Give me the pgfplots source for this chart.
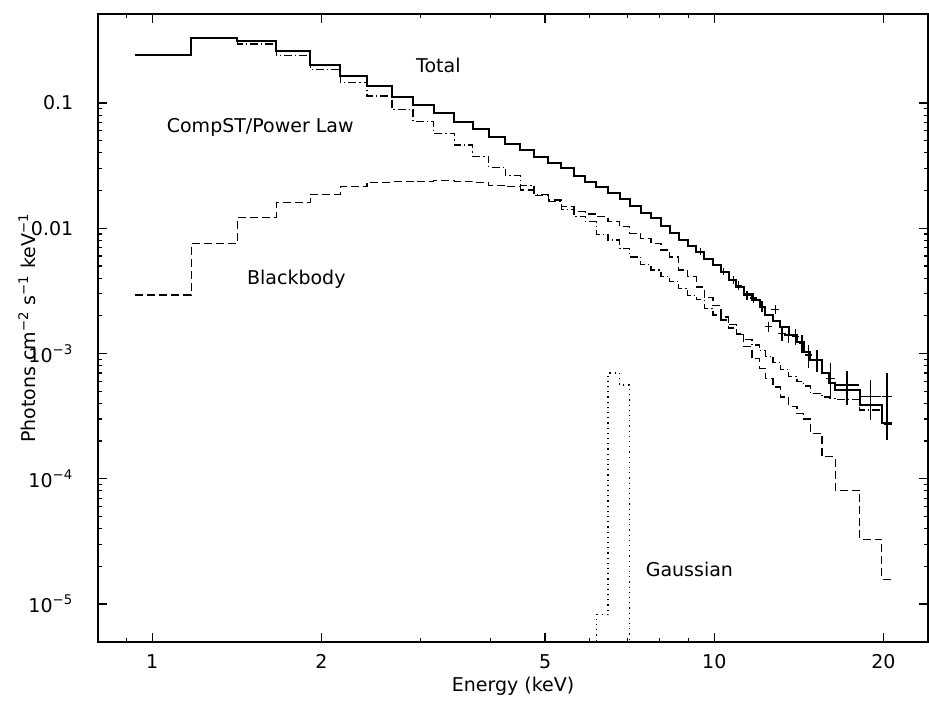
\documentclass[border=0pt]{standalone}
\usepackage{pgfplots}
\pgfplotsset{compat=1.18}
\usepackage{fontspec}
\setmainfont{DejaVu Sans}
\begin{document}
\fontsize{9.5}{11}\selectfont
\begin{tikzpicture}
\begin{axis}[
  at={(0,0)}, anchor=south west,
  scale only axis, width=415pt, height=314pt,
  xmode=log, ymode=log,
  xmin=0.801, xmax=24.0, ymin=4.97e-6, ymax=0.514,
  xtick={1,2,5,10,20}, xticklabels={1,2,5,10,20},
  minor xtick={0.9,3,4,6,7,8,9},
  ytick={1e-5,1e-4,1e-3,0.01,0.1},
  yticklabels={10\textsuperscript{−5},10\textsuperscript{−4},10\textsuperscript{−3},0.01,0.1},
  tick align=inside, major tick length=4.5pt, minor tick length=2pt,
  tick style={line width=0.6pt,black},
  axis line style={line width=0.8pt},
  xticklabel style={yshift=-3pt},
  yticklabel style={xshift=-9pt},
  xlabel={Energy (keV)},
  ylabel={Photons cm\textsuperscript{−2} s\textsuperscript{−1} keV\textsuperscript{−1}},
  xlabel style={at={(axis description cs:0.5,0)}, anchor=base, yshift=-24.5pt},
  ylabel style={at={(axis description cs:-0.0855,0.5)}, anchor=center},
  clip=true,
]
% Total model
\addplot[const plot, black, line width=1pt] coordinates {
(0.933,0.2415)(1.173,0.330)(1.417,0.314)(1.662,0.262)(1.91,0.202)(2.16,0.165)(2.41,0.137)(2.67,0.111)(2.91,0.0964)(3.17,0.0837)(3.45,0.0710)(3.72,0.0617)(3.97,0.0532)(4.25,0.0471)(4.52,0.0421)(4.78,0.0373)(5.07,0.0334)(5.34,0.0301)(5.63,0.0261)(5.90,0.0235)(6.17,0.0215)(6.47,0.0192)(6.79,0.0170)(7.07,0.0151)(7.40,0.0133)(7.72,0.0120)(8.04,0.0104)(8.33,0.00912)(8.65,0.00806)(8.97,0.00722)(9.29,0.00643)(9.60,0.00565)(9.95,0.00509)(10.28,0.00450)(10.60,0.00386)(10.94,0.00341)(11.28,0.00298)(11.67,0.00267)(12.04,0.00234)(12.32,0.00203)(12.72,0.00183)(13.10,0.00162)(13.56,0.00141)(14.03,0.00124)(14.42,0.00103)(14.82,0.000887)(15.55,0.000695)(16.03,0.000585)(16.42,0.000511)(18.14,0.000390)(19.87,0.000280)(20.70,0.000280)
};
% CompST / power law
\addplot[const plot, black, line width=0.6pt, dash pattern=on 4pt off 1.5pt on 0.6pt off 1.5pt] coordinates {
(0.933,0.240)(1.173,0.326)(1.417,0.296)(1.662,0.239)(1.91,0.185)(2.16,0.146)(2.41,0.1137)(2.67,0.0891)(2.91,0.0710)(3.17,0.0573)(3.45,0.0462)(3.72,0.0377)(3.97,0.0306)(4.25,0.0263)(4.52,0.0221)(4.78,0.0187)(5.07,0.0163)(5.34,0.0142)(5.63,0.0125)(5.90,0.0113)(6.17,0.00895)(6.47,0.00805)(6.79,0.0069)(7.07,0.0059)(7.40,0.0051)(7.72,0.00465)(8.04,0.0041)(8.33,0.00375)(8.65,0.0033)(8.97,0.0029)(9.29,0.00268)(9.60,0.0023)(9.95,0.00203)(10.28,0.00185)(10.60,0.0016)(10.94,0.00141)(11.28,0.00129)(11.67,0.00117)(12.04,0.00105)(12.32,0.00095)(12.72,0.00085)(13.10,0.00075)(13.56,0.00066)(14.03,0.0006)(14.42,0.00055)(14.82,0.00048)(15.55,0.00045)(16.03,0.00044)(16.42,0.00043)(18.14,0.000354)(19.87,0.00027)(20.70,0.00027)
};
% Blackbody
\addplot[const plot, black, line width=0.6pt, dash pattern=on 4pt off 2pt] coordinates {
(0.933,0.00293)(1.173,0.00758)(1.417,0.01214)(1.662,0.0161)(1.91,0.01874)(2.16,0.0215)(2.41,0.0233)(2.67,0.0236)(2.91,0.0238)(3.17,0.0239)(3.45,0.0238)(3.72,0.0233)(3.97,0.0221)(4.25,0.0215)(4.52,0.0202)(4.78,0.0184)(5.07,0.0168)(5.34,0.0149)(5.63,0.0136)(5.90,0.0130)(6.17,0.0124)(6.47,0.0113)(6.79,0.0103)(7.07,0.0091)(7.40,0.0083)(7.72,0.0076)(8.04,0.0067)(8.33,0.0059)(8.65,0.00465)(8.97,0.0041)(9.29,0.0034)(9.60,0.0028)(9.95,0.0024)(10.28,0.00196)(10.60,0.0017)(10.94,0.00145)(11.28,0.00113)(11.67,0.00091)(12.04,0.00076)(12.32,0.00063)(12.72,0.00054)(13.10,0.00045)(13.56,0.00038)(14.03,0.00033)(14.42,0.00030)(14.82,0.00023)(15.55,0.00015)(16.42,0.000081)(18.14,0.0000329)(19.87,0.0000158)(20.70,0.0000158)
};
% Gaussian
\addplot[const plot, black, line width=0.6pt, dotted] coordinates {
(5.8,1e-7)(6.17,8.2e-6)(6.47,7.0e-4)(6.79,5.6e-4)(7.07,1e-7)(7.3,1e-7)
};
% Data
\addplot[black, line width=0.6pt, only marks, mark=*, mark size=0pt,
  mark options={draw opacity=0, fill opacity=0},
  error bars/.cd, x dir=both, x explicit, y dir=both, y explicit, error mark=none,
  error bar style={line width=0.7pt, black}] coordinates {
(9.44,0.0065) +- (0.16,0.0004)
(10.39,0.0045) +- (0.16,0.0003)
(10.82,0.00386) +- (0.17,0.0003)
(11.05,0.0035) +- (0.17,0.0003)
(11.43,0.00293) +- (0.19,0.00025)
(11.74,0.00277) +- (0.18,0.00025)
(12.16,0.00238) +- (0.14,0.00025)
(12.49,0.00164) +- (0.2,0.00016)
(12.84,0.00225) +- (0.2,0.0002)
(13.19,0.00145) +- (0.2,0.0002)
(13.56,0.00141) +- (0.23,0.0002)
(13.93,0.00137) +- (0.2,0.0002)
(14.32,0.00121) +- (0.2,0.0002)
(14.72,0.000973) +- (0.2,0.0002)
(15.22,0.000887) +- (0.36,0.00018)
(16.08,0.000634) +- (0.3,0.0002)
(17.22,0.000561) +- (0.86,0.00017)
(18.95,0.000452) +- (0.86,0.00016)
(20.3,0.000453) +- (0.42,0.00025)
(20.3,0.000273) +- (0.2,0.00001)
};
\node at (axis cs:3.23,0.201) {Total};
\node at (axis cs:1.557,0.0642) {CompST/Power Law};
\node at (axis cs:1.805,0.00394) {Blackbody};
\node at (axis cs:9.03,1.9e-5) {Gaussian};
\end{axis}
\path[use as bounding box] (-49pt,-27pt) rectangle (415.5pt,321pt);
\end{tikzpicture}
\end{document}
